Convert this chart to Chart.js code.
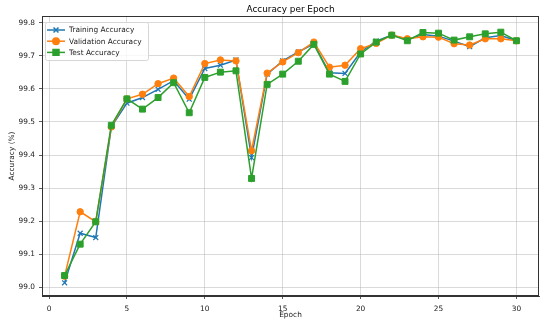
<!DOCTYPE html>
<html>
<head>
<meta charset="utf-8">
<script src="https://cdn.jsdelivr.net/npm/chart.js@4.4.1/dist/chart.umd.min.js"></script>
<style>
  html, body { margin: 0; padding: 0; background: #fff; }
  #wrap { width: 550px; height: 326px; }
</style>
</head>
<body>
<div id="wrap"><canvas id="grafica" width="550" height="326"></canvas></div>
<script>
// Datos
const epocas = [1,2,3,4,5,6,7,8,9,10,11,12,13,14,15,16,17,18,19,20,21,22,23,24,25,26,27,28,29,30];
const trainAcc = [99.013,99.163,99.150,99.485,99.557,99.574,99.599,99.625,99.569,99.662,99.672,99.688,99.392,99.645,99.685,99.712,99.737,99.649,99.647,99.712,99.745,99.763,99.750,99.765,99.760,99.745,99.728,99.755,99.762,99.746];
const valAcc = [99.033,99.228,99.198,99.485,99.570,99.584,99.616,99.633,99.577,99.677,99.688,99.685,99.413,99.648,99.682,99.710,99.742,99.666,99.672,99.722,99.738,99.763,99.752,99.758,99.757,99.737,99.733,99.752,99.752,99.746];
const testAcc = [99.035,99.130,99.198,99.490,99.570,99.539,99.574,99.619,99.528,99.635,99.651,99.655,99.329,99.614,99.645,99.684,99.735,99.645,99.623,99.706,99.742,99.763,99.746,99.771,99.769,99.748,99.758,99.767,99.772,99.746];
const xTicks = [0,5,10,15,20,25,30];
const yTicks = ["99.0","99.1","99.2","99.3","99.4","99.5","99.6","99.7","99.8"];
const titulo = "Accuracy per Epoch";

const fuente = "'DejaVu Sans', sans-serif";
const colores = { train: "#1f77b4", val: "#ff7f0e", test: "#2ca02c" };

function serie(valores) {
    return valores.map((v, i) => ({ x: epocas[i], y: v }));
}

// Título centrado sobre el área, leyenda dentro (estilo matplotlib) y marco completo
const leyendaInterna = {
    id: "leyendaInterna",
    afterDraw(chart) {
        const ctx = chart.ctx;
        const area = chart.chartArea;
        ctx.save();
        // título
        ctx.fillStyle = "#000";
        ctx.font = "8.9px " + fuente;
        ctx.textAlign = "center";
        ctx.textBaseline = "middle";
        ctx.fillText(titulo, (area.left + area.right) / 2, area.top - 6.5);
        ctx.textAlign = "left";

        // marco
        ctx.strokeStyle = "#333";
        ctx.lineWidth = 1;
        ctx.strokeRect(area.left + 0.5, area.top + 0.5, area.right - area.left - 1, area.bottom - area.top - 1);

        const items = [
            { label: "Training Accuracy", color: colores.train, style: "crossRot", r: 3.5 },
            { label: "Validation Accuracy", color: colores.val, style: "circle", r: 3.2 },
            { label: "Test Accuracy", color: colores.test, style: "rect", r: 4.2 }
        ];
        const x0 = area.left + 3, y0 = area.top + 6, w = 103, h = 38;
        ctx.fillStyle = "rgba(255,255,255,0.8)";
        ctx.strokeStyle = "#d6d6d6";
        ctx.lineWidth = 1;
        ctx.beginPath();
        ctx.roundRect(x0 + 0.5, y0 + 0.5, w, h, 2);
        ctx.fill();
        ctx.stroke();

        ctx.font = "7.4px " + fuente;
        ctx.textBaseline = "middle";
        items.forEach((it, i) => {
            const y = y0 + 8 + i * 11.2;
            ctx.strokeStyle = it.color;
            ctx.lineWidth = 1.5;
            ctx.beginPath();
            ctx.moveTo(x0 + 2, y);
            ctx.lineTo(x0 + 20, y);
            ctx.stroke();
            ctx.fillStyle = it.color;
            Chart.helpers.drawPoint(ctx, { pointStyle: it.style, radius: it.r, borderWidth: 1.2 }, x0 + 11, y);
            ctx.fillStyle = "#222";
            ctx.fillText(it.label, x0 + 24, y + 0.5);
        });
        ctx.restore();
    }
};

const grafica = new Chart(document.getElementById("grafica"), {
    type: "line",
    data: {
        datasets: [
            {
                label: "Training Accuracy",
                data: serie(trainAcc),
                borderColor: colores.train,
                backgroundColor: colores.train,
                pointStyle: "crossRot",
                pointRadius: 3.5,
                pointBorderWidth: 1.2,
                borderWidth: 1.5,
                order: 2
            },
            {
                label: "Validation Accuracy",
                data: serie(valAcc),
                borderColor: colores.val,
                backgroundColor: colores.val,
                pointStyle: "circle",
                pointRadius: 3.2,
                pointBorderWidth: 1,
                borderWidth: 1.5,
                order: 1
            },
            {
                label: "Test Accuracy",
                data: serie(testAcc),
                borderColor: colores.test,
                backgroundColor: colores.test,
                pointStyle: "rect",
                pointRadius: 4.2,
                pointBorderWidth: 1,
                borderWidth: 1.5,
                order: 0
            }
        ]
    },
    options: {
        responsive: false,
        animation: false,
        devicePixelRatio: 1,
        layout: { padding: { left: 0, right: 11, top: 16, bottom: 0 } },
        elements: { line: { tension: 0 } },
        plugins: {
            legend: { display: false },
            tooltip: { enabled: false },
            title: { display: false }
        },
        scales: {
            x: {
                type: "linear",
                min: -0.45,
                max: 31.45,
                afterFit(scale) { scale.height = 30; },
                afterBuildTicks(scale) { scale.ticks = xTicks.map(v => ({ value: v })); },
                ticks: {
                    color: "#222",
                    font: { family: fuente, size: 7.4 },
                    padding: 5.5,
                    maxRotation: 0,
                    callback: v => String(v)
                },
                grid: { color: "rgba(176,176,176,0.6)", lineWidth: 0.8, tickLength: 3, tickColor: "#333" },
                border: { display: true, color: "#333", width: 1 },
                title: {
                    display: true,
                    text: "Epoch",
                    color: "#222",
                    font: { family: fuente, size: 7.4 },
                    padding: { top: 0, bottom: 6 }
                }
            },
            y: {
                min: 98.973,
                max: 99.821,
                afterFit(scale) { scale.width = 42; },
                afterBuildTicks(scale) { scale.ticks = yTicks.map(t => ({ value: parseFloat(t) })); },
                ticks: {
                    color: "#222",
                    font: { family: fuente, size: 7.4 },
                    padding: 4,
                    callback: v => Number(v).toFixed(1)
                },
                grid: { color: "rgba(176,176,176,0.6)", lineWidth: 0.8, tickLength: 3, tickColor: "#333" },
                border: { display: true, color: "#333", width: 1 },
                title: {
                    display: true,
                    text: "Accuracy (%)",
                    color: "#222",
                    font: { family: fuente, size: 7.4 },
                    padding: { top: 8, bottom: 0 }
                }
            }
        }
    },
    plugins: [leyendaInterna]
});
</script>
</body>
</html>
